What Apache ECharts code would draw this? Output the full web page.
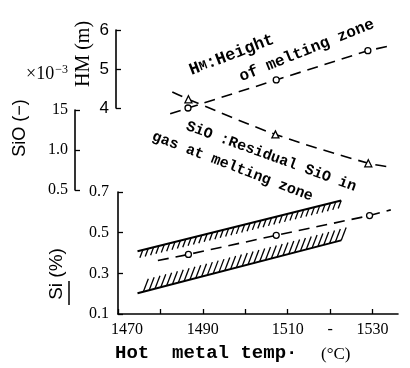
<!DOCTYPE html>
<html><head><meta charset="utf-8">
<script src="https://cdn.jsdelivr.net/npm/echarts@6/dist/echarts.min.js"></script>
<style>html,body{margin:0;padding:0;background:#fff}#c{width:410px;height:368px}</style>
</head><body><div id="c"></div>
<script>
// ---- data ----
const tempHM  = [1482.3, 1486.5, 1507.3, 1528.9, 1533.5];
const valHM   = [3.85, 4.0, 4.72, 5.47, 5.58];
const markHM  = [false, true, true, true, false];

const tempSiO = [1482.8, 1486.6, 1507.1, 1529.0, 1533.8];
const valSiO  = [1.725, 1.634, 1.195, 0.834, 0.79];
const markSiO = [false, true, true, true, false];

const tempSi  = [1479.4, 1486.6, 1507.3, 1529.3, 1534.3];
const valSi   = [0.363, 0.393, 0.487, 0.584, 0.612];
const markSi  = [false, true, true, true, false];

const bandTemp  = [1474.6, 1522.6];
const bandUpper = [0.409, 0.658];
const bandLower = [0.202, 0.462];

const xTickLabels   = {1470:'1470', 1490:'1490', 1510:'1510', 1520:'-', 1530:'1530'};
const hmTickLabels  = {4:'4', 5:'5', 6:'6'};
const sioTickLabels = {0.5:'0.5', 1:'1.0', 1.5:'15'};
const siTickLabels  = {0.1:'0.1', 0.3:'0.3', 0.5:'0.5', 0.7:'0.7'};

// ---- helpers ----
const X_MIN = 1470, X_MAX = 1536;
function pts(ts, vs, marks){
  return ts.map((t,i)=> marks[i] ? [t, vs[i]] : {value:[t, vs[i]], symbol:'none'});
}
function fmt(map){ return v => { const k = Math.round(v*100)/100; return map[k] !== undefined ? map[k] : ''; }; }
function xFmt(v){
  const s = fmt(xTickLabels)(v);
  return (Math.round(v) === X_MIN && s) ? '{first|' + s + '}' : s;
}
function hatch(dx, dy, step){
  return function(params, api){
    const p0 = api.coord([api.value(0), api.value(1)]);
    const p1 = api.coord([api.value(2), api.value(3)]);
    const len = Math.hypot(p1[0]-p0[0], p1[1]-p0[1]);
    const n = Math.floor(len/step);
    const ch = [];
    for (let i=1;i<=n;i++){
      const f = i/n;
      const x = p0[0]+(p1[0]-p0[0])*f, y = p0[1]+(p1[1]-p0[1])*f;
      ch.push({type:'line', shape:{x1:x, y1:y, x2:x+dx, y2:y+dy}, style:{stroke:'#000', lineWidth:1.3}});
    }
    return {type:'group', children:ch};
  };
}
const dashed = {type:[11,7], width:1.6, color:'#000'};
const serif = 'Liberation Serif';
const mono = 'Liberation Mono';

const xBase = {type:'value', min:X_MIN, max:X_MAX, interval:10, show:false};

const option = {
  animation:false,
  backgroundColor:'#fff',
  grid:[
    {left:118, top:30, width:280, height:78},
    {left:118, top:110, width:280, height:80},
    {left:118, top:192, width:280, height:122}
  ],
  xAxis:[
    Object.assign({gridIndex:0}, xBase),
    Object.assign({gridIndex:1}, xBase),
    {gridIndex:2, type:'value', min:X_MIN, max:X_MAX, interval:10,
     axisLine:{lineStyle:{color:'#000', width:1.6}},
     axisTick:{inside:true, length:5, lineStyle:{color:'#000', width:1.3}},
     splitLine:{show:false},
     axisLabel:{formatter:xFmt, color:'#000', fontFamily:serif, fontSize:16, margin:8, showMaxLabel:false,
       rich:{first:{fontFamily:serif, fontSize:16, color:'#000', padding:[0,0,0,18]}}}}
  ],
  yAxis:[
    {gridIndex:0, type:'value', min:4, max:6, interval:1, offset:2,
     axisLine:{show:true, lineStyle:{color:'#000', width:1.6}},
     axisTick:{inside:true, length:5, lineStyle:{color:'#000', width:1.3}},
     splitLine:{show:false},
     axisLabel:{formatter:fmt(hmTickLabels), color:'#000', fontFamily:'Liberation Sans', fontSize:17, margin:7}},
    {gridIndex:1, type:'value', min:0.5, max:1.5, interval:0.5, offset:43,
     axisLine:{show:true, lineStyle:{color:'#000', width:1.6}},
     axisTick:{inside:true, length:5, lineStyle:{color:'#000', width:1.3}},
     splitLine:{show:false},
     axisLabel:{formatter:fmt(sioTickLabels), color:'#000', fontFamily:serif, fontSize:16, margin:7}},
    {gridIndex:2, type:'value', min:0.1, max:0.7, interval:0.2,
     axisLine:{show:true, lineStyle:{color:'#000', width:1.6}},
     axisTick:{inside:true, length:5, lineStyle:{color:'#000', width:1.3}},
     splitLine:{show:false},
     axisLabel:{formatter:fmt(siTickLabels), color:'#000', fontFamily:serif, fontSize:16, margin:9}}
  ],
  series:[
    {type:'line', xAxisIndex:0, yAxisIndex:0, clip:false, data:pts(tempHM, valHM, markHM),
     lineStyle:dashed, symbol:'circle', symbolSize:6,
     itemStyle:{color:'#fff', borderColor:'#000', borderWidth:1.3}},
    {type:'line', xAxisIndex:1, yAxisIndex:1, clip:false, smooth:0.3, data:pts(tempSiO, valSiO, markSiO),
     lineStyle:dashed, symbol:'triangle', symbolSize:7,
     itemStyle:{color:'#fff', borderColor:'#000', borderWidth:1.3}},
    {type:'line', xAxisIndex:2, yAxisIndex:2, clip:false, data:pts(tempSi, valSi, markSi),
     lineStyle:dashed, symbol:'circle', symbolSize:6,
     itemStyle:{color:'#fff', borderColor:'#000', borderWidth:1.3}},
    {type:'line', xAxisIndex:2, yAxisIndex:2, showSymbol:false, symbol:'none',
     data:bandTemp.map((t,i)=>[t, bandUpper[i]]), lineStyle:{color:'#000', width:2}},
    {type:'line', xAxisIndex:2, yAxisIndex:2, showSymbol:false, symbol:'none',
     data:bandTemp.map((t,i)=>[t, bandLower[i]]), lineStyle:{color:'#000', width:2}},
    {type:'custom', xAxisIndex:2, yAxisIndex:2, clip:false, renderItem:hatch(-3, 8, 5.5),
     encode:{x:[0,2], y:[1,3]},
     data:[[bandTemp[0], bandUpper[0], bandTemp[1], bandUpper[1]]]},
    {type:'custom', xAxisIndex:2, yAxisIndex:2, clip:false, renderItem:hatch(5, -13, 6),
     encode:{x:[0,2], y:[1,3]},
     data:[[bandTemp[0], bandLower[0], bandTemp[1], bandLower[1]]]}
  ],
  graphic:[
    {type:'text', x:84, y:54, rotation:Math.PI/2,
     style:{text:'HM (m)', font:'20px "Liberation Serif"', fill:'#000', textAlign:'center', textVerticalAlign:'middle'}},
    {type:'text', x:20, y:128, rotation:Math.PI/2,
     style:{text:'SiO (−)', font:'18px "Liberation Sans"', fill:'#000', textAlign:'center', textVerticalAlign:'middle'}},
    {type:'text', x:26, y:74,
     style:{text:'{a|×10}{b|−3}', fill:'#000', textAlign:'left', textVerticalAlign:'middle',
       rich:{a:{fontFamily:serif, fontSize:18, fill:'#000'}, b:{fontFamily:serif, fontSize:12, fill:'#000', verticalAlign:'top', padding:[0,0,9,1]}}}},
    {type:'text', x:57, y:274, rotation:Math.PI/2,
     style:{text:'Si (%)', font:'19px "Liberation Sans"', fill:'#000', textAlign:'center', textVerticalAlign:'middle'}},
    {type:'line', shape:{x1:69, y1:281, x2:69, y2:305}, style:{stroke:'#000', lineWidth:1.5}},
    {type:'text', x:115, y:363,
     style:{text:'Hot  metal temp·', font:'bold 19px "Liberation Mono"', fill:'#000', textAlign:'left', textVerticalAlign:'bottom'}},
    {type:'text', x:321, y:355,
     style:{text:'(°C)', font:'17px "Liberation Serif"', fill:'#000', textAlign:'left', textVerticalAlign:'middle'}},
    {type:'text', x:193, y:79, rotation:21*Math.PI/180,
     style:{text:'{a|H}{b|M}{a|:Height}', textAlign:'left', textVerticalAlign:'bottom',
       rich:{a:{fontFamily:mono, fontWeight:'bold', fontSize:17, fill:'#000'}, b:{fontFamily:mono, fontWeight:'bold', fontSize:13, fill:'#000'}}}},
    {type:'text', x:243, y:85, rotation:22*Math.PI/180,
     style:{text:'of melting zone', font:'bold 16px "Liberation Mono"', fill:'#000', textAlign:'left', textVerticalAlign:'bottom'}},
    {type:'text', x:184, y:133, rotation:-20*Math.PI/180,
     style:{text:'SiO :Residual SiO in', font:'bold 15px "Liberation Mono"', fill:'#000', textAlign:'left', textVerticalAlign:'bottom'}},
    {type:'text', x:150, y:143, rotation:-21*Math.PI/180,
     style:{text:'gas at melting zone', font:'bold 15px "Liberation Mono"', fill:'#000', textAlign:'left', textVerticalAlign:'bottom'}}
  ]
};
const chart = echarts.init(document.getElementById('c'), null, {renderer:'canvas'});
chart.setOption(option);
</script>
</body></html>
